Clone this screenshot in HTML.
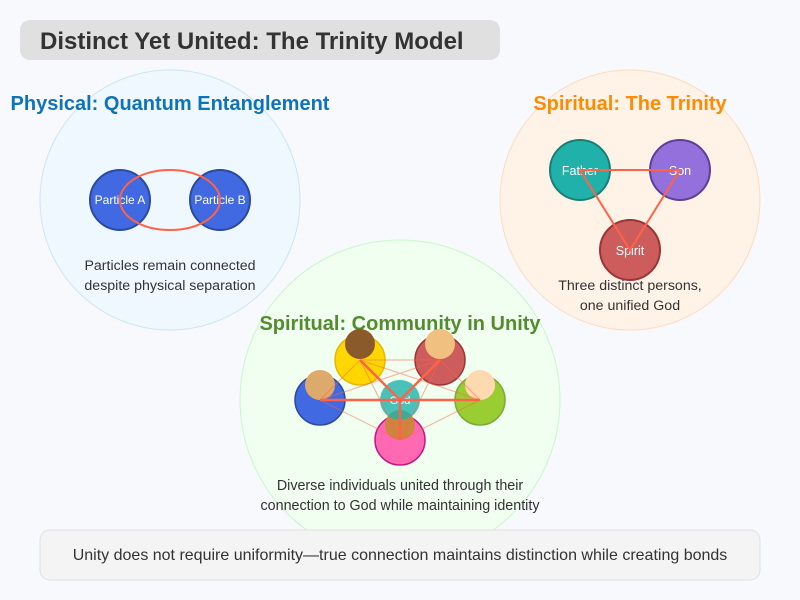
<!DOCTYPE html>
<html><head><meta charset="utf-8"><style>
html,body{margin:0;padding:0;background:#f8f9fd;}
svg{display:block;}
text{font-family:"Liberation Sans",Arial,sans-serif;}
</style></head><body>
<svg width="800" height="600" viewBox="0 0 800 600" xmlns="http://www.w3.org/2000/svg">
<rect x="0" y="0" width="800" height="600" fill="#f8f9fd"/>
<!-- title -->
<rect x="20" y="20" width="480" height="40" rx="10" fill="#e0e0e0"/>
<text x="40" y="49" font-size="24" font-weight="bold" fill="#333">Distinct Yet United: The Trinity Model</text>

<!-- big circles -->
<circle cx="170" cy="200" r="130" fill="#f0f8ff" stroke="#cce4fb" stroke-width="1"/>
<circle cx="630" cy="200" r="130" fill="#fff3e8" stroke="#fddcc0" stroke-width="1"/>
<circle cx="400" cy="400" r="160" fill="#f0fff0" stroke="#c8f8c8" stroke-width="1"/>

<!-- physical -->
<text x="170" y="110" font-size="20" font-weight="bold" fill="#0e73b9" text-anchor="middle">Physical: Quantum Entanglement</text>
<circle cx="120" cy="200" r="30" fill="#4169e1" stroke="#2b4a9e" stroke-width="2"/>
<circle cx="220" cy="200" r="30" fill="#4169e1" stroke="#2b4a9e" stroke-width="2"/>
<text x="120" y="204" font-size="12" fill="#fff" text-anchor="middle">Particle A</text>
<text x="220" y="204" font-size="12" fill="#fff" text-anchor="middle">Particle B</text>
<ellipse cx="170" cy="200" rx="50" ry="30" fill="none" stroke="#ff6347" stroke-width="2"/>
<text x="170" y="270" font-size="14.2" fill="#333" text-anchor="middle">Particles remain connected</text>
<text x="170" y="290" font-size="14.2" fill="#333" text-anchor="middle">despite physical separation</text>

<!-- trinity -->
<text x="630" y="110" font-size="20" font-weight="bold" fill="#ff8c00" text-anchor="middle">Spiritual: The Trinity</text>
<circle cx="580" cy="170" r="30" fill="#20b2aa" stroke="#177f78" stroke-width="2"/>
<circle cx="680" cy="170" r="30" fill="#9370db" stroke="#5e3f95" stroke-width="2"/>
<circle cx="630" cy="250" r="30" fill="#cd5c5c" stroke="#9b3535" stroke-width="2"/>
<text x="580" y="175" font-size="12.5" fill="#fff" text-anchor="middle">Father</text>
<text x="680" y="175" font-size="12.5" fill="#fff" text-anchor="middle">Son</text>
<text x="630" y="255" font-size="12.5" fill="#fff" text-anchor="middle">Spirit</text>
<polygon points="580,170 680,170 630,250" fill="none" stroke="#ff6347" stroke-width="2"/>
<text x="630" y="290" font-size="14.2" fill="#333" text-anchor="middle">Three distinct persons,</text>
<text x="630" y="310" font-size="14.2" fill="#333" text-anchor="middle">one unified God</text>

<!-- community -->
<text x="400" y="330" font-size="20" font-weight="bold" fill="#558b2f" text-anchor="middle">Spiritual: Community in Unity</text>
<!-- people -->
<circle cx="360" cy="360" r="25" fill="#ffd700" stroke="#e6b800" stroke-width="1.5"/>
<circle cx="360" cy="344" r="15" fill="#8b5a2b"/>
<circle cx="440" cy="360" r="25" fill="#cd5c5c" stroke="#9b3535" stroke-width="1.5"/>
<circle cx="440" cy="344" r="15" fill="#f0c080"/>
<circle cx="320" cy="400" r="25" fill="#4169e1" stroke="#2b4a9e" stroke-width="1.5"/>
<circle cx="320" cy="385" r="15" fill="#deaa6b"/>
<circle cx="480" cy="400" r="25" fill="#9acd32" stroke="#7ba83a" stroke-width="1.5"/>
<circle cx="480" cy="385" r="15" fill="#ffdab0"/>
<circle cx="400" cy="440" r="25" fill="#ff69b4" stroke="#c71585" stroke-width="1.5"/>
<circle cx="400" cy="425" r="15" fill="#cd853f"/>
<!-- god -->
<circle cx="400" cy="400" r="20" fill="#20b2aa" opacity="0.8"/>
<text x="400" y="404" font-size="11" fill="#fff" text-anchor="middle">God</text>
<!-- thin connections -->
<g stroke="#ff6347" stroke-width="1.2" opacity="0.45">
<line x1="360" y1="360" x2="440" y2="360"/>
<line x1="360" y1="360" x2="320" y2="400"/>
<line x1="360" y1="360" x2="480" y2="400"/>
<line x1="360" y1="360" x2="400" y2="440"/>
<line x1="440" y1="360" x2="320" y2="400"/>
<line x1="440" y1="360" x2="480" y2="400"/>
<line x1="440" y1="360" x2="400" y2="440"/>
<line x1="320" y1="400" x2="480" y2="400"/>
<line x1="320" y1="400" x2="400" y2="440"/>
<line x1="480" y1="400" x2="400" y2="440"/>
</g>
<!-- thick spokes -->
<g stroke="#ff6347" stroke-width="2.5">
<line x1="400" y1="400" x2="360" y2="360"/>
<line x1="400" y1="400" x2="440" y2="360"/>
<line x1="400" y1="400" x2="320" y2="400"/>
<line x1="400" y1="400" x2="480" y2="400"/>
<line x1="400" y1="400" x2="400" y2="440"/>
</g>
<text x="400" y="490" font-size="14.3" fill="#333" text-anchor="middle">Diverse individuals united through their</text>
<text x="400" y="510" font-size="14.3" fill="#333" text-anchor="middle">connection to God while maintaining identity</text>

<!-- footer -->
<rect x="40" y="530" width="720" height="50" rx="10" fill="#f4f4f4" stroke="#e0e0e0" stroke-width="1"/>
<text x="400" y="560" font-size="16" fill="#333" text-anchor="middle">Unity does not require uniformity—true connection maintains distinction while creating bonds</text>
</svg>
</body></html>
